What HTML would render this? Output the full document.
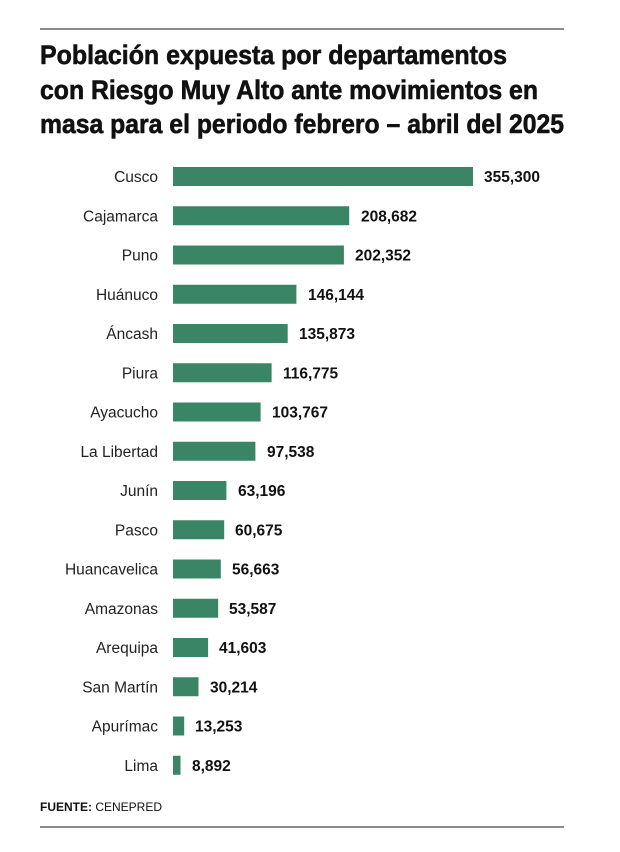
<!DOCTYPE html>
<html><head><meta charset="utf-8"><style>
body{margin:0;background:#fff}
svg{display:block}
</style></head><body>
<svg width="620" height="852" xmlns="http://www.w3.org/2000/svg" font-family="Liberation Sans, sans-serif">
<rect width="620" height="852" fill="#fff"/>
<line x1="40" y1="29" x2="564" y2="29" stroke="#444" stroke-width="1.3"/>
<g font-weight="bold" font-size="27" fill="#111" stroke="#111" stroke-width="0.6">
<text x="40" y="64" textLength="467" lengthAdjust="spacingAndGlyphs">Población expuesta por departamentos</text>
<text x="40" y="99" textLength="498" lengthAdjust="spacingAndGlyphs">con Riesgo Muy Alto ante movimientos en</text>
<text x="40" y="133" textLength="524" lengthAdjust="spacingAndGlyphs">masa para el periodo febrero – abril del 2025</text>
</g>
<g fill="#3a8566">
<rect x="173" y="167" width="300" height="19"/>
<rect x="173" y="206.25" width="176.2" height="19"/>
<rect x="173" y="245.5" width="170.9" height="19"/>
<rect x="173" y="284.75" width="123.4" height="19"/>
<rect x="173" y="324" width="114.7" height="19"/>
<rect x="173" y="363.25" width="98.6" height="19"/>
<rect x="173" y="402.5" width="87.6" height="19"/>
<rect x="173" y="441.75" width="82.4" height="19"/>
<rect x="173" y="481" width="53.4" height="19"/>
<rect x="173" y="520.25" width="51.2" height="19"/>
<rect x="173" y="559.5" width="47.8" height="19"/>
<rect x="173" y="598.75" width="45.2" height="19"/>
<rect x="173" y="638" width="35.1" height="19"/>
<rect x="173" y="677.25" width="25.5" height="19"/>
<rect x="173" y="716.5" width="11.2" height="19"/>
<rect x="173" y="755.75" width="7.5" height="19"/>
</g>
<g font-size="15.5" fill="#222" text-anchor="end">
<text x="158" y="182">Cusco</text>
<text x="158" y="221.25">Cajamarca</text>
<text x="158" y="260.5">Puno</text>
<text x="158" y="299.75">Huánuco</text>
<text x="158" y="339">Áncash</text>
<text x="158" y="378.25">Piura</text>
<text x="158" y="417.5">Ayacucho</text>
<text x="158" y="456.75">La Libertad</text>
<text x="158" y="496">Junín</text>
<text x="158" y="535.25">Pasco</text>
<text x="158" y="574.5">Huancavelica</text>
<text x="158" y="613.75">Amazonas</text>
<text x="158" y="653">Arequipa</text>
<text x="158" y="692.25">San Martín</text>
<text x="158" y="731.5">Apurímac</text>
<text x="158" y="770.75">Lima</text>
</g>
<g font-size="15.5" font-weight="bold" fill="#111">
<text x="484" y="182">355,300</text>
<text x="361" y="221.25">208,682</text>
<text x="355" y="260.5">202,352</text>
<text x="308" y="299.75">146,144</text>
<text x="299" y="339">135,873</text>
<text x="283" y="378.25">116,775</text>
<text x="272" y="417.5">103,767</text>
<text x="267" y="456.75">97,538</text>
<text x="238" y="496">63,196</text>
<text x="235" y="535.25">60,675</text>
<text x="232" y="574.5">56,663</text>
<text x="229" y="613.75">53,587</text>
<text x="219" y="653">41,603</text>
<text x="210" y="692.25">30,214</text>
<text x="195" y="731.5">13,253</text>
<text x="192" y="770.75">8,892</text>
</g>
<text x="40" y="811" font-size="12" fill="#111" textLength="122" lengthAdjust="spacingAndGlyphs"><tspan font-weight="bold">FUENTE:</tspan> CENEPRED</text>
<line x1="40" y1="827" x2="564" y2="827" stroke="#444" stroke-width="1.3"/>
</svg>
</body></html>
